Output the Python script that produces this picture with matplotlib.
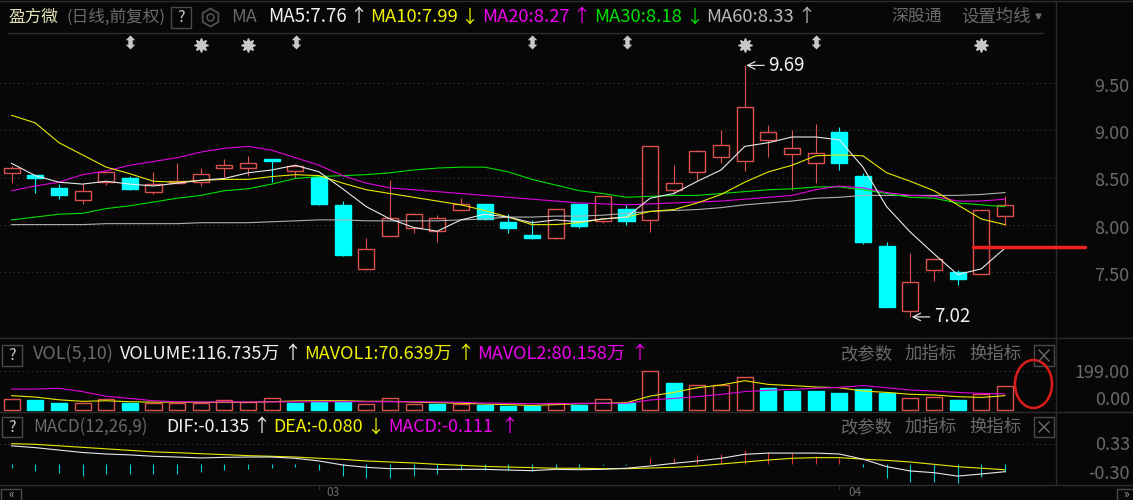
import matplotlib
matplotlib.use('Agg')
import matplotlib.pyplot as plt
import numpy as np
from matplotlib.patches import Ellipse, Rectangle
from matplotlib.transforms import ScaledTranslation

plt.rcParams['font.family'] = ['Noto Sans CJK SC', 'DejaVu Sans']

W = 1133
H = 500
BG = '#070707'
RED = '#dc5050'
CYAN = '#00ffff'
GREY = '#6a6a6a'
LINE = '#2b2b2b'

opens = [8.55, 8.53, 8.39, 8.26, 8.45, 8.50, 8.35, 8.44, 8.45, 8.60, 8.60, 8.70, 8.57, 8.51, 8.21,
         7.53, 7.88, 7.96, 7.93, 8.15, 8.22, 8.03, 7.89, 7.86, 8.22, 8.04, 8.17, 8.05, 8.37, 8.56,
         8.72, 8.67, 8.90, 8.75, 8.65, 8.98, 8.52, 7.77, 7.08, 7.52, 7.50, 7.48, 8.09]
closes = [8.60, 8.49, 8.31, 8.36, 8.56, 8.38, 8.43, 8.46, 8.54, 8.63, 8.65, 8.67, 8.62, 8.22, 7.68,
          7.74, 8.07, 8.11, 8.07, 8.22, 8.06, 7.96, 7.86, 8.17, 7.99, 8.30, 8.04, 8.83, 8.44, 8.78,
          8.85, 9.25, 8.98, 8.81, 8.76, 8.65, 7.81, 7.12, 7.39, 7.63, 7.42, 8.15, 8.21]
highs = [8.62, 8.53, 8.43, 8.44, 8.57, 8.52, 8.56, 8.65, 8.60, 8.70, 8.73, 8.70, 8.63, 8.52, 8.25,
         7.86, 8.47, 8.12, 8.10, 8.28, 8.22, 8.11, 8.05, 8.17, 8.22, 8.30, 8.21, 8.83, 8.63, 8.79,
         9.00, 9.69, 9.06, 9.00, 9.07, 9.04, 8.55, 7.81, 7.70, 7.65, 7.52, 8.15, 8.30]
lows = [8.44, 8.34, 8.27, 8.22, 8.42, 8.37, 8.33, 8.44, 8.41, 8.51, 8.52, 8.45, 8.50, 8.21, 7.67,
        7.52, 7.88, 7.91, 7.81, 8.14, 8.05, 7.91, 7.85, 7.85, 7.96, 8.02, 8.00, 7.92, 8.33, 8.47,
        8.65, 8.57, 8.72, 8.37, 8.44, 8.58, 7.79, 7.12, 7.02, 7.40, 7.36, 7.48, 7.99]

ma5 = [8.65, 8.52, 8.45, 8.43, 8.46, 8.43, 8.41, 8.44, 8.47, 8.49, 8.55, 8.58, 8.63, 8.56, 8.38,
       8.19, 8.06, 7.97, 7.93, 8.05, 8.11, 8.08, 8.02, 8.05, 8.03, 8.06, 8.08, 8.28, 8.33, 8.46,
       8.58, 8.83, 8.87, 8.93, 8.93, 8.90, 8.61, 8.19, 7.92, 7.69, 7.47, 7.53, 7.75]
ma10 = [9.16, 9.08, 8.87, 8.74, 8.61, 8.54, 8.46, 8.45, 8.47, 8.48, 8.48, 8.51, 8.53, 8.52, 8.44,
        8.37, 8.33, 8.29, 8.25, 8.21, 8.15, 8.08, 8.00, 8.00, 8.02, 8.06, 8.08, 8.14, 8.16, 8.23,
        8.32, 8.45, 8.56, 8.63, 8.73, 8.74, 8.73, 8.55, 8.46, 8.36, 8.21, 8.06, 8.00]
ma20 = [8.36, 8.41, 8.45, 8.53, 8.57, 8.63, 8.67, 8.71, 8.77, 8.81, 8.83, 8.79, 8.71, 8.63, 8.52,
        8.44, 8.39, 8.37, 8.35, 8.33, 8.31, 8.29, 8.27, 8.25, 8.23, 8.22, 8.21, 8.22, 8.23, 8.24,
        8.25, 8.27, 8.29, 8.31, 8.37, 8.41, 8.39, 8.34, 8.31, 8.30, 8.25, 8.25, 8.27]
ma30 = [8.05, 8.08, 8.11, 8.12, 8.17, 8.20, 8.24, 8.28, 8.31, 8.36, 8.38, 8.43, 8.49, 8.51, 8.52,
        8.53, 8.55, 8.58, 8.60, 8.61, 8.61, 8.56, 8.48, 8.42, 8.36, 8.33, 8.29, 8.30, 8.31, 8.31,
        8.33, 8.35, 8.37, 8.38, 8.40, 8.40, 8.37, 8.33, 8.29, 8.28, 8.23, 8.21, 8.19]
ma60 = [8.00, 8.00, 8.00, 8.00, 8.01, 8.01, 8.01, 8.01, 8.02, 8.02, 8.02, 8.03, 8.04, 8.05, 8.05,
        8.04, 8.04, 8.04, 8.04, 8.05, 8.06, 8.08, 8.08, 8.09, 8.09, 8.10, 8.12, 8.14, 8.15, 8.16,
        8.18, 8.21, 8.23, 8.25, 8.28, 8.29, 8.31, 8.31, 8.31, 8.31, 8.31, 8.32, 8.34]

volume = [53, 50, 34, 34, 53, 36, 34, 36, 36, 48, 39, 58, 34, 41, 41, 27, 58, 29, 29, 31, 26, 21,
          21, 36, 26, 53, 36, 199, 136, 125, 125, 166, 112, 98, 98, 84, 106, 84, 58, 63, 50, 81, 120]
vol_down = [1, 2, 5, 12, 13, 14, 18, 20, 21, 22, 24, 26, 28, 32, 33, 34, 35, 36, 37, 40]
mavol1 = [72, 65, 51, 43, 46, 41, 39, 39, 38, 38, 38, 41, 45, 46, 46, 43, 43, 39, 36, 33, 29, 26,
          22, 26, 31, 33, 36, 70, 89, 113, 127, 149, 130, 124, 117, 113, 96, 89, 79, 76, 67, 63, 72]
mavol2 = [106, 106, 110, 93, 69, 58, 46, 41, 40, 40, 40, 40, 40, 41, 41, 41, 41, 41, 40, 38, 34, 33,
          31, 31, 33, 33, 33, 50, 58, 67, 79, 93, 100, 105, 110, 115, 124, 113, 101, 96, 89, 84, 81]

dif = [0.30, 0.27, 0.23, 0.19, 0.165, 0.15, 0.127, 0.115, 0.10, 0.11, 0.115, 0.115, 0.094, 0.05, -0.016,
       -0.055, -0.077, -0.077, -0.088, -0.088, -0.088, -0.10, -0.11, -0.088, -0.094, -0.088, -0.07, -0.033, 0.011, 0.05,
       0.094, 0.16, 0.18, 0.18, 0.18, 0.165, 0.08, -0.044, -0.115, -0.143, -0.20, -0.165, -0.127]
dea = [0.335, 0.325, 0.30, 0.275, 0.25, 0.225, 0.20, 0.187, 0.17, 0.155, 0.138, 0.127, 0.115, 0.094, 0.077,
       0.05, 0.033, 0.017, -0.005, -0.022, -0.04, -0.05, -0.06, -0.07, -0.07, -0.077, -0.077, -0.066, -0.055, -0.033,
       0.0, 0.033, 0.066, 0.094, 0.105, 0.105, 0.08, 0.06, 0.033, -0.005, -0.044, -0.07, -0.094]
macd = [-0.066, -0.11, -0.149, -0.19, -0.17, -0.16, -0.16, -0.16, -0.127, -0.094, -0.083, -0.07, -0.055, -0.094, -0.20,
        -0.237, -0.226, -0.19, -0.16, -0.105, -0.094, -0.094, -0.116, -0.07, -0.05, -0.011, -0.011, 0.094, 0.094, 0.149,
        0.16, 0.226, 0.20, 0.187, 0.132, 0.094, -0.05, -0.237, -0.30, -0.30, -0.31, -0.21, -0.138]

star_days = [8, 10, 31, 41]
arrow_days = [5, 12, 22, 26, 34]
price_ticks = [7.5, 8.0, 8.5, 9.0, 9.5]

X0 = 11.6
STEP = 23.65
PANEL_R = 1056
LW = 0.8
days = np.arange(len(opens))


def panel(top, bottom):
    ax = fig.add_axes([0, 1 - bottom / H, PANEL_R / W, (bottom - top) / H])
    ax.set_facecolor(BG)
    ax.set_xlim(-X0 / STEP, (PANEL_R - X0) / STEP)
    for s in ax.spines.values():
        s.set_visible(False)
    ax.set_xticks([])
    ax.set_yticks([])
    return ax


fig = plt.figure(figsize=(W / 100, H / 100), dpi=100, facecolor=BG)

# price panel
ax = panel(36, 337)
ax.set_ylim(9.5 - (337 - 83.3) / 94.2, 9.5 + (83.3 - 36) / 94.2)
for p in price_ticks:
    ax.axhline(p, color='#3a3a3a', lw=0.8, ls=(0, (1, 3)), zorder=1)
for i in days:
    up = closes[i] >= opens[i]
    col = RED if up else CYAN
    ax.vlines(i, lows[i], highs[i], color=col, lw=LW, zorder=2)
    ax.bar(i, abs(closes[i] - opens[i]), bottom=min(opens[i], closes[i]), width=0.68,
           facecolor=BG if up else CYAN, edgecolor=col, lw=1, zorder=3)
ax.plot(days, ma60, color='#b0b0b0', lw=LW, zorder=4)
ax.plot(days, ma30, color='#00e000', lw=LW, zorder=4)
ax.plot(days, ma20, color='#e000e0', lw=LW, zorder=4)
ax.plot(days, ma10, color='#e8e800', lw=LW, zorder=4)
ax.plot(days, ma5, color='#e8e8e8', lw=LW, zorder=5)
ax.yaxis.tick_right()
ax.set_yticks(price_ticks)
ax.set_yticklabels(['%.2f' % p for p in price_ticks])
ax.tick_params(axis='y', length=0, pad=53, labelsize=13, labelcolor=GREY)
shift = ScaledTranslation(0, -2 / 100, fig.dpi_scale_trans)
for lab in ax.get_yticklabels():
    lab.set_ha('right')
    lab.set_transform(lab.get_transform() + shift)
for d, label in [(31, '9.69'), (38, '7.02')]:
    ax.annotate(label, xy=(d, highs[d] if d == 31 else lows[d]), xytext=(17, 0), textcoords='offset points',
                color='#f0f0f0', fontsize=13.5, va='center', zorder=6,
                arrowprops=dict(arrowstyle='->', color='#e0e0e0', lw=0.9, shrinkA=1, shrinkB=1))

# volume panel
ax_vol = panel(338, 412)
vol_scale = 199 / 38.7
ax_vol.set_ylim(-(412 - 409.7) * vol_scale, (409.7 - 338) * vol_scale)
ax_vol.axhline(199, color='#3a3a3a', lw=0.8, ls=(0, (1, 3)))
for i in days:
    down = i in vol_down
    ax_vol.bar(i, volume[i], width=0.68, facecolor=CYAN if down else BG, edgecolor=CYAN if down else RED, lw=1, zorder=2)
ax_vol.plot(days, mavol1, color='#e8e800', lw=LW, zorder=3)
ax_vol.plot(days, mavol2, color='#e000e0', lw=LW, zorder=3)

# macd panel
ax_macd = panel(412, 485)
ax_macd.set_ylim(-(485 - 464) * 0.0165, (464 - 412) * 0.0165)
ax_macd.axhline(0.33, color='#3a3a3a', lw=0.8, ls=(0, (1, 3)))
for i in days:
    ax_macd.vlines(i, 0, macd[i], color='#e03030' if macd[i] > 0 else '#00d0d0', lw=LW, zorder=2)
ax_macd.plot(days, dea, color='#e8e800', lw=LW, zorder=3)
ax_macd.plot(days, dif, color='#e8e8e8', lw=LW, zorder=3)

# header, buttons and hand drawn marks sit on a pixel layer
ui = fig.add_axes([0, 0, 1, 1])
ui.set_xlim(0, W)
ui.set_ylim(H, 0)
ui.axis('off')
ui.patch.set_alpha(0)


def txt(x, y, s, color, size=11, **kw):
    ui.text(x, y, s, color=color, fontsize=size, va='center', ha=kw.pop('ha', 'left'), **kw)


def box(x0, y0, x1, y1, s):
    ui.add_patch(Rectangle((x0, y0), x1 - x0, y1 - y0, fill=False, ec='#4a4a4a', lw=1))
    txt((x0 + x1) / 2, (y0 + y1) / 2, s, '#c8c8c8', 11.5, ha='center')


for y in [1, 338, 412, 485]:
    ui.plot([0, W], [y, y], color=LINE, lw=1)
ui.plot([8, 1043], [33, 33], color=LINE, lw=1)
ui.plot([PANEL_R, PANEL_R], [1, 485], color=LINE, lw=1)

txt(8, 17, '盈方微', '#e4e4b8', 12)
txt(66, 17, '(日线,前复权)', GREY, 12)
box(171, 7, 191, 28, '?')
# gear icon
ui.plot([210], [17], marker='h', ms=13, mfc='none', mec='#505050', mew=1.3)
ui.plot([210], [17], marker='o', ms=5, mfc='none', mec='#505050', mew=1.2)
txt(231, 17, 'MA', GREY, 13)
txt(268, 17, 'MA5:7.76', '#f0f0f0', 13.5)
txt(349, 17, '↑', '#f0f0f0', 13)
txt(370, 17, 'MA10:7.99', '#f0f000', 13.3)
txt(460, 17, '↓', '#f0f000', 13)
txt(482, 17, 'MA20:8.27', '#f000f0', 13.3)
txt(572, 17, '↑', '#f000f0', 13)
txt(594, 17, 'MA30:8.18', '#00e000', 13.3)
txt(685, 17, '↓', '#00e000', 13)
txt(706, 17, 'MA60:8.33', '#b8b8b8', 13.3)
txt(797, 17, '↑', '#b8b8b8', 13)
txt(891, 17, '深股通', GREY, 12.2)
txt(961, 17, '设置均线', GREY, 12.5)
ui.plot([1037.5], [16], marker='v', ms=3.5, color=GREY)

for d in star_days:
    ui.plot([X0 + STEP * d], [45], marker=(8, 1, 0), ms=10, color='#c8c8c8')
for d in arrow_days:
    ui.text(X0 + STEP * d, 45, '⬍', color='#c8c8c8', fontsize=13, ha='center', va='center',
            family='DejaVu Sans', fontweight='bold')

box(2, 345, 22, 366, '?')
txt(33, 354, 'VOL(5,10)', GREY, 13)
txt(120, 354, 'VOLUME:116.735万', '#f0f0f0', 13)
txt(283, 354, '↑', '#f0f0f0', 13)
txt(304, 354, 'MAVOL1:70.639万', '#f0f000', 13)
txt(456, 354, '↑', '#f0f000', 13)
txt(477, 354, 'MAVOL2:80.158万', '#f000f0', 13)
txt(630, 354, '↑', '#f000f0', 13)

box(2, 417, 22, 437, '?')
txt(33, 427, 'MACD(12,26,9)', GREY, 12.2)
txt(166, 427, 'DIF:-0.135', '#f0f0f0', 12.9)
txt(252, 427, '↑', '#f0f0f0', 13)
txt(273, 427, 'DEA:-0.080', '#f0f000', 12.9)
txt(366, 427, '↓', '#f0f000', 13)
txt(388, 427, 'MACD:-0.111', '#f000f0', 12.9)
txt(500, 427, '↑', '#f000f0', 13)

for y in [354, 427]:
    txt(841, y, '改参数', GREY, 12.5)
    txt(905, y, '加指标', GREY, 12.5)
    txt(969, y, '换指标', GREY, 12.5)
box(1034, 345, 1054, 366, '')
box(1034, 417, 1054, 437, '')
for y0, y1 in [(350, 361), (422, 432)]:
    ui.plot([1039, 1049], [y0, y1], color=GREY, lw=1)
    ui.plot([1039, 1049], [y1, y0], color=GREY, lw=1)

txt(1130, 373, '199.00', GREY, 13, ha='right')
txt(1130, 400, '0.00', GREY, 13, ha='right')
txt(1130, 445, '0.33', GREY, 13, ha='right')
txt(1130, 474, '-0.30', GREY, 13, ha='right')

# date axis
ui.plot([319, 319], [485, 489], color=LINE, lw=1)
ui.plot([838.6, 838.6], [485, 489], color=LINE, lw=1)
txt(333, 493, '03', GREY, 8.5, ha='center')
txt(855, 493, '04', GREY, 8.5, ha='center')
ui.add_patch(Rectangle((1, 489), 20, 14, fill=False, ec='#4a4a4a', lw=1, clip_on=True))
ui.add_patch(Rectangle((1117, 489), 20, 14, fill=False, ec='#4a4a4a', lw=1, clip_on=True))
txt(11, 494, '«', '#a0a0a0', 8.5, ha='center')
txt(1126, 494, '»', '#a0a0a0', 8.5, ha='center')

# red marks drawn on the screenshot by hand
ui.plot([973, 1085], [246.5, 246.5], color='#ee2222', lw=2.5, solid_capstyle='round')
ui.add_patch(Ellipse((1033.5, 384), 37, 48, fill=False, ec='#dd1c1c', lw=1.8))

fig.savefig('out.png', dpi=100, facecolor=BG)
